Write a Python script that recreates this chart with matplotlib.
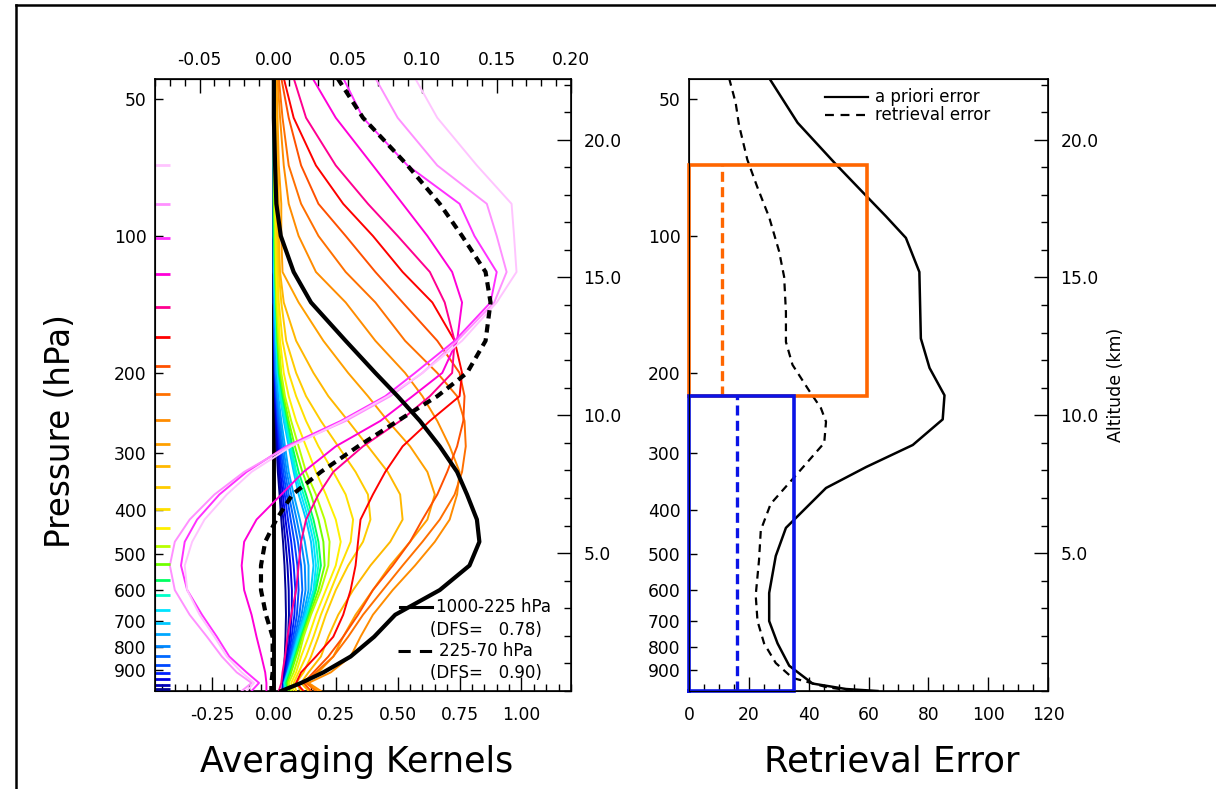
import numpy as np
import matplotlib
matplotlib.use("Agg")
import matplotlib.pyplot as plt
from matplotlib.lines import Line2D
from matplotlib.ticker import FixedLocator, MultipleLocator, NullFormatter, FormatStrFormatter

plt.rcParams['font.family'] = ['DejaVu Sans']
plt.rcParams['axes.unicode_minus'] = False

# ---------------------------------------------------------------------------
# Averaging kernels (rows of the AK matrix) on a common pressure grid (hPa)
# ---------------------------------------------------------------------------
ak_pressure = [45, 55, 70, 85, 100, 120, 140, 170, 200, 225, 255, 290,
               330, 370, 420, 470, 530, 600, 680, 760, 840, 910, 960, 1000]

ak_070 = [0.57, 0.66, 0.82, 0.96, 0.97, 0.98, 0.90, 0.76, 0.60, 0.46, 0.28, 0.07,
          -0.09, -0.19, -0.28, -0.33, -0.36, -0.35, -0.30, -0.24, -0.19, -0.13, -0.08, -0.11]
ak_085 = [0.41, 0.50, 0.66, 0.86, 0.90, 0.94, 0.89, 0.74, 0.60, 0.47, 0.29, 0.06,
          -0.12, -0.24, -0.34, -0.40, -0.42, -0.40, -0.34, -0.27, -0.21, -0.15, -0.09, -0.13]
ak_101 = [0.28, 0.36, 0.54, 0.75, 0.81, 0.90, 0.875, 0.73, 0.57, 0.45, 0.27, 0.05,
          -0.11, -0.22, -0.31, -0.36, -0.375, -0.35, -0.29, -0.23, -0.18, -0.11, -0.06, -0.09]
ak_121 = [0.156, 0.25, 0.40, 0.52, 0.62, 0.72, 0.76, 0.74, 0.68, 0.56, 0.43, 0.25,
          0.12, 0.03, -0.07, -0.12, -0.13, -0.12, -0.09, -0.07, -0.05, -0.035, -0.03, -0.03]
ak_143 = [0.08, 0.13, 0.25, 0.38, 0.50, 0.63, 0.69, 0.73, 0.72, 0.63, 0.51, 0.36,
          0.24, 0.18, 0.13, 0.11, 0.10, 0.09, 0.07, 0.055, 0.045, 0.035, 0.03, 0.02]
ak_167 = [0.04, 0.08, 0.17, 0.28, 0.40, 0.52, 0.64, 0.73, 0.76, 0.75, 0.63, 0.52,
          0.45, 0.40, 0.35, 0.34, 0.33, 0.31, 0.28, 0.24, 0.17, 0.11, 0.09, 0.12]
ak_193 = [0.03, 0.06, 0.11, 0.18, 0.29, 0.41, 0.52, 0.66, 0.75, 0.77, 0.765, 0.74,
          0.70, 0.66, 0.60, 0.55, 0.48, 0.40, 0.34, 0.28, 0.22, 0.16, 0.12, 0.15]
ak_222 = [0.02, 0.035, 0.06, 0.11, 0.18, 0.29, 0.41, 0.53, 0.66, 0.74, 0.77, 0.775,
          0.76, 0.73, 0.67, 0.60, 0.52, 0.44, 0.36, 0.30, 0.24, 0.17, 0.13, 0.17]
ak_254 = [0.015, 0.025, 0.04, 0.06, 0.10, 0.17, 0.29, 0.41, 0.53, 0.60, 0.66, 0.71,
          0.75, 0.74, 0.71, 0.65, 0.57, 0.48, 0.40, 0.35, 0.31, 0.23, 0.14, 0.19]
ak_286 = [0.01, 0.015, 0.02, 0.03, 0.03, 0.035, 0.10, 0.20, 0.30, 0.38, 0.46, 0.55,
          0.62, 0.65, 0.62, 0.55, 0.47, 0.40, 0.33, 0.28, 0.24, 0.18, 0.13, 0.18]
ak_321 = [0.01, 0.01, 0.015, 0.02, 0.02, 0.025, 0.04, 0.09, 0.16, 0.22, 0.30, 0.38,
          0.46, 0.51, 0.52, 0.47, 0.39, 0.32, 0.26, 0.22, 0.19, 0.14, 0.11, 0.14]
ak_357 = [0.005, 0.005, 0.01, 0.01, 0.015, 0.02, 0.03, 0.05, 0.09, 0.13, 0.19, 0.26,
          0.33, 0.38, 0.39, 0.36, 0.30, 0.25, 0.21, 0.18, 0.15, 0.12, 0.09, 0.11]
ak_399 = [0.005, 0.005, 0.005, 0.01, 0.01, 0.015, 0.02, 0.035, 0.06, 0.09, 0.13, 0.18,
          0.24, 0.29, 0.32, 0.31, 0.27, 0.23, 0.19, 0.16, 0.13, 0.10, 0.08, 0.09]
ak_439 = [0.0, 0.0, 0.005, 0.005, 0.01, 0.01, 0.015, 0.025, 0.04, 0.06, 0.09, 0.13,
          0.17, 0.21, 0.25, 0.27, 0.25, 0.21, 0.17, 0.14, 0.11, 0.09, 0.07, 0.08]
ak_481 = [0.0, 0.0, 0.0, 0.005, 0.005, 0.01, 0.01, 0.02, 0.03, 0.045, 0.07, 0.10,
          0.13, 0.17, 0.205, 0.225, 0.22, 0.19, 0.15, 0.12, 0.10, 0.08, 0.06, 0.07]
ak_527 = [0.0, 0.0, 0.0, 0.0, 0.005, 0.005, 0.01, 0.015, 0.025, 0.04, 0.06, 0.085,
          0.115, 0.15, 0.18, 0.20, 0.205, 0.18, 0.145, 0.115, 0.09, 0.07, 0.055, 0.06]
ak_569 = [0.0, 0.0, 0.0, 0.0, 0.0, 0.005, 0.01, 0.015, 0.02, 0.035, 0.055, 0.075,
          0.10, 0.13, 0.16, 0.18, 0.19, 0.17, 0.14, 0.11, 0.085, 0.065, 0.05, 0.055]
ak_614 = [0.0, 0.0, 0.0, 0.0, 0.0, 0.005, 0.005, 0.01, 0.02, 0.03, 0.05, 0.07,
          0.09, 0.12, 0.15, 0.17, 0.18, 0.165, 0.135, 0.105, 0.08, 0.06, 0.045, 0.05]
ak_663 = [0.0, 0.0, 0.0, 0.0, 0.0, 0.0, 0.005, 0.01, 0.015, 0.025, 0.045, 0.065,
          0.085, 0.11, 0.14, 0.16, 0.17, 0.16, 0.13, 0.10, 0.078, 0.058, 0.044, 0.048]
ak_708 = [0.0, 0.0, 0.0, 0.0, 0.0, 0.0, 0.005, 0.01, 0.015, 0.025, 0.04, 0.06,
          0.08, 0.10, 0.13, 0.15, 0.16, 0.15, 0.125, 0.097, 0.075, 0.056, 0.042, 0.046]
ak_750 = [0.0, 0.0, 0.0, 0.0, 0.0, 0.0, 0.003, 0.006, 0.01, 0.018, 0.03, 0.045,
          0.06, 0.08, 0.105, 0.125, 0.14, 0.14, 0.12, 0.095, 0.075, 0.058, 0.045, 0.045]
ak_795 = [0.0, 0.0, 0.0, 0.0, 0.0, 0.0, 0.0, 0.005, 0.008, 0.015, 0.025, 0.038,
          0.052, 0.07, 0.092, 0.11, 0.125, 0.128, 0.112, 0.09, 0.072, 0.056, 0.044, 0.043]
ak_837 = [0.0, 0.0, 0.0, 0.0, 0.0, 0.0, 0.0, 0.004, 0.007, 0.012, 0.02, 0.032,
          0.045, 0.06, 0.08, 0.097, 0.11, 0.115, 0.103, 0.085, 0.069, 0.054, 0.043, 0.042]
ak_875 = [0.0, 0.0, 0.0, 0.0, 0.0, 0.0, 0.0, 0.003, 0.006, 0.01, 0.017, 0.027,
          0.038, 0.052, 0.068, 0.083, 0.095, 0.10, 0.093, 0.079, 0.065, 0.052, 0.042, 0.041]
ak_912 = [0.0, 0.0, 0.0, 0.0, 0.0, 0.0, 0.0, 0.002, 0.005, 0.008, 0.014, 0.022,
          0.032, 0.044, 0.057, 0.07, 0.08, 0.087, 0.083, 0.072, 0.06, 0.05, 0.041, 0.04]
ak_943 = [0.0, 0.0, 0.0, 0.0, 0.0, 0.0, 0.0, 0.002, 0.004, 0.007, 0.011, 0.018,
          0.026, 0.036, 0.047, 0.058, 0.067, 0.073, 0.072, 0.065, 0.056, 0.047, 0.04, 0.038]
ak_972 = [0.0, 0.0, 0.0, 0.0, 0.0, 0.0, 0.0, 0.001, 0.003, 0.005, 0.009, 0.014,
          0.021, 0.029, 0.038, 0.047, 0.055, 0.06, 0.061, 0.057, 0.051, 0.044, 0.038, 0.036]
ak_990 = [0.0, 0.0, 0.0, 0.0, 0.0, 0.0, 0.0, 0.001, 0.002, 0.004, 0.007, 0.011,
          0.016, 0.023, 0.03, 0.037, 0.043, 0.047, 0.049, 0.047, 0.044, 0.04, 0.036, 0.034]

# nominal level of each kernel (hPa) and its colour, bottom to top
ak_levels = [990, 972, 943, 912, 875, 837, 795, 750, 708, 663, 614, 569, 527, 481,
             439, 399, 357, 321, 286, 254, 222, 193, 167, 143, 121, 101, 85, 70]
ak_rows = [ak_990, ak_972, ak_943, ak_912, ak_875, ak_837, ak_795, ak_750, ak_708,
           ak_663, ak_614, ak_569, ak_527, ak_481, ak_439, ak_399, ak_357, ak_321,
           ak_286, ak_254, ak_222, ak_193, ak_167, ak_143, ak_121, ak_101, ak_085, ak_070]
ak_colors = ['#000090', '#0000B8', '#0000E0', '#0020FF', '#0048FF', '#0068FF', '#0088FF',
             '#00A8FF', '#00C8FF', '#00E4FF', '#00FFC8', '#00FF60', '#70FF00', '#B8FF00',
             '#FFF000', '#FFE000', '#FFCC00', '#FFB800', '#FFA000', '#FF8C00', '#FF7000',
             '#FF5000', '#FF0000', '#FF0090', '#FF00D8', '#FF30FF', '#FF90FF', '#FFC4FF']

# layer sums of the kernel rows
ak_sum_lower = [0.0, 0.0, 0.005, 0.01, 0.028, 0.08, 0.15, 0.29, 0.41, 0.50, 0.59, 0.67,
                0.74, 0.78, 0.82, 0.83, 0.79, 0.67, 0.49, 0.405, 0.31, 0.20, 0.11, 0.03]
ak_sum_upper = [0.257, 0.36, 0.54, 0.67, 0.76, 0.855, 0.875, 0.855, 0.78, 0.66, 0.50, 0.34,
                0.19, 0.075, 0.01, -0.035, -0.052, -0.052, -0.032, -0.005, -0.005, -0.005,
                -0.01, -0.01]
dfs_lower = 0.78
dfs_upper = 0.90

# ---------------------------------------------------------------------------
# Error profiles (%)
# ---------------------------------------------------------------------------
apriori_p = [45, 56.4, 69.6, 81.6, 90.5, 101, 120, 168, 195, 224, 253, 288, 322, 358,
             438, 505, 609, 702, 786, 880, 963, 990, 1000]
apriori_err = [26.8, 36.3, 49.1, 59.2, 65.8, 72.5, 77.0, 77.5, 80.4, 85.4, 84.8, 74.8,
               59.2, 45.8, 32.4, 29.0, 26.8, 26.8, 29.6, 33.5, 41.3, 52.5, 63.0]
retrieval_p = [45, 51, 57, 68, 78, 91, 108, 123, 147, 171, 192, 219, 239, 256, 285, 336,
               388, 443, 516, 616, 702, 786, 868, 936, 980, 1000]
retrieval_err = [13.4, 15.6, 16.7, 19.5, 22.8, 26.8, 30.1, 31.8, 32.4, 32.4, 34.6, 40.2,
                 44.1, 45.8, 45.2, 35.7, 27.3, 24.0, 23.4, 22.3, 22.9, 25.1, 29.0, 34.6,
                 45.8, 54.7]

# layer boxes: (bottom hPa, top hPa, a priori error, mean retrieval error)
upper_layer = (225, 70, 59.5, 11.0)
lower_layer = (1000, 225, 35.0, 16.0)

p_labels = [50, 100, 200, 300, 400, 500, 600, 700, 800, 900]
p_top, p_bot = 45.2, 1000.0
z_top = 22.2

# ---------------------------------------------------------------------------
fig = plt.figure(figsize=(12.16, 7.89), dpi=100)
W, H = 1216.0, 789.0


def axes_rect(x0, x1, ytop, ybot):
    return [x0 / W, 1 - ybot / H, (x1 - x0) / W, (ybot - ytop) / H]


ax1 = fig.add_axes(axes_rect(155, 571, 79, 691))
ax2 = fig.add_axes(axes_rect(689, 1048, 79, 691))

tick_font = 12.3


def pressure_axis(ax):
    ax.set_yscale('log')
    ax.set_ylim(p_bot, p_top)
    ax.yaxis.set_major_locator(FixedLocator(p_labels))
    ax.yaxis.set_minor_locator(FixedLocator([]))
    ax.yaxis.set_major_formatter(FormatStrFormatter('%d'))
    ax.yaxis.set_minor_formatter(NullFormatter())
    ax.tick_params(axis='y', which='major', direction='in', length=6, width=1,
                   labelsize=tick_font, pad=6, right=False)
    for s in ax.spines.values():
        s.set_linewidth(1.2)


def altitude_axis(ax):
    az = ax.twinx()
    az.set_ylim(0, z_top)
    az.yaxis.set_major_locator(FixedLocator([5, 10, 15, 20]))
    az.yaxis.set_minor_locator(MultipleLocator(1))
    az.yaxis.set_major_formatter(FormatStrFormatter('%.1f'))
    az.tick_params(axis='y', which='major', direction='in', length=10, width=1,
                   labelsize=tick_font, pad=9)
    az.tick_params(axis='y', which='minor', direction='in', length=5, width=1)
    return az


# ---------------- Averaging kernels ----------------
pressure_axis(ax1)
ax1.set_xlim(-0.48, 1.2)
ax1.xaxis.set_major_locator(MultipleLocator(0.25))
ax1.xaxis.set_minor_locator(MultipleLocator(0.05))
ax1.xaxis.set_major_formatter(FormatStrFormatter('%.2f'))
ax1.set_xticks([-0.25, 0.0, 0.25, 0.5, 0.75, 1.0])
ax1.tick_params(axis='x', which='major', direction='in', length=10, width=1,
                labelsize=tick_font, pad=11, top=False)
ax1.tick_params(axis='x', which='minor', direction='in', length=5, width=1, top=False)

top = ax1.secondary_xaxis('top', functions=(lambda v: v / 6.0, lambda t: t * 6.0))
top.set_xticks([-0.05, 0.0, 0.05, 0.10, 0.15, 0.20])
top.xaxis.set_minor_locator(MultipleLocator(0.01))
top.xaxis.set_major_formatter(FormatStrFormatter('%.2f'))
top.tick_params(axis='x', which='major', direction='in', length=10, width=1,
                labelsize=tick_font, pad=7)
top.tick_params(axis='x', which='minor', direction='in', length=5, width=1)

ax1.axvline(0.0, color='black', lw=2.8, zorder=2)

for row, col in zip(ak_rows, ak_colors):
    ax1.plot(row, ak_pressure, color=col, lw=1.4, zorder=3)

ax1.plot(ak_sum_lower, ak_pressure, color='black', lw=3.0, zorder=5,
         solid_joinstyle='round')
ax1.plot(ak_sum_upper, ak_pressure, color='black', lw=3.0, zorder=5,
         dashes=(2.0, 1.4))

# colour marks at each kernel's nominal level
blend = ax1.get_yaxis_transform()
for lev, col in zip(ak_levels, ak_colors):
    ax1.plot([0.0, 0.036], [lev, lev], color=col, lw=2.0, transform=blend,
             zorder=6, solid_capstyle='butt', clip_on=False)

altitude_axis(ax1)

# layer legend
leg_font = 12
ax1.add_line(Line2D([0.589, 0.666], [0.137, 0.137], color='black', lw=2.2,
                    transform=ax1.transAxes, zorder=7))
ax1.text(0.676, 0.137, '1000-225 hPa', transform=ax1.transAxes, fontsize=leg_font,
         va='center', ha='left', zorder=7)
ax1.text(0.660, 0.100, '(DFS=   %.2f)' % dfs_lower, transform=ax1.transAxes,
         fontsize=leg_font, va='center', ha='left', zorder=7)
ax1.add_line(Line2D([0.584, 0.666], [0.065, 0.065], color='black', lw=2.2,
                    dashes=(4, 3), transform=ax1.transAxes, zorder=7))
ax1.text(0.683, 0.065, '225-70 hPa', transform=ax1.transAxes, fontsize=leg_font,
         va='center', ha='left', zorder=7)
ax1.text(0.660, 0.030, '(DFS=   %.2f)' % dfs_upper, transform=ax1.transAxes,
         fontsize=leg_font, va='center', ha='left', zorder=7)

# ---------------- Retrieval error ----------------
pressure_axis(ax2)
ax2.set_xlim(0, 120)
ax2.xaxis.set_major_locator(MultipleLocator(20))
ax2.xaxis.set_minor_locator(MultipleLocator(5))
ax2.xaxis.set_major_formatter(FormatStrFormatter('%d'))
ax2.tick_params(axis='x', which='major', direction='in', length=10, width=1,
                labelsize=tick_font, pad=11, top=False)
ax2.tick_params(axis='x', which='minor', direction='in', length=5, width=1, top=False)

ax2.plot(apriori_err, apriori_p, color='black', lw=1.8, zorder=4)
ax2.plot(retrieval_err, retrieval_p, color='black', lw=1.6, dashes=(3.5, 2.5), zorder=4)

for (pb, pt, e_ap, e_rt), col in zip([upper_layer, lower_layer], ['#FF6600', '#0A14E6']):
    ax2.plot([0, e_ap, e_ap, 0, 0], [pb, pb, pt, pt, pb], color=col, lw=2.6,
             zorder=5, clip_on=False, solid_joinstyle='miter')
    ax2.plot([e_rt, e_rt], [pb, pt], color=col, lw=2.4, dashes=(3.0, 1.6), zorder=5)

ax2.add_line(Line2D([0.379, 0.499], [0.9706, 0.9706], color='black', lw=1.6,
                    transform=ax2.transAxes))
ax2.add_line(Line2D([0.379, 0.499], [0.941, 0.941], color='black', lw=1.6,
                    dashes=(4, 3), transform=ax2.transAxes))
ax2.text(0.518, 0.9706, 'a priori error', transform=ax2.transAxes, fontsize=12,
         va='center', ha='left')
ax2.text(0.518, 0.941, 'retrieval error', transform=ax2.transAxes, fontsize=12,
         va='center', ha='left')

az2 = altitude_axis(ax2)
az2.set_ylabel('Altitude (km)', fontsize=12.5, labelpad=6)

# ---------------- figure text and frame ----------------
fig.text(60 / W, 1 - 431 / H, 'Pressure (hPa)', rotation=90, fontsize=23.5,
         ha='center', va='center')
fig.text(357 / W, 1 - 762 / H, 'Averaging Kernels', fontsize=25, ha='center', va='center')
fig.text(892 / W, 1 - 762 / H, 'Retrieval Error', fontsize=25.5, ha='center', va='center')

fig.add_artist(Line2D([16 / W, 1.0], [1 - 5 / H, 1 - 5 / H], color='black', lw=1.8))
fig.add_artist(Line2D([16 / W, 16 / W], [0.0, 1 - 5 / H], color='black', lw=1.8))

fig.savefig('out.png', dpi=100)
